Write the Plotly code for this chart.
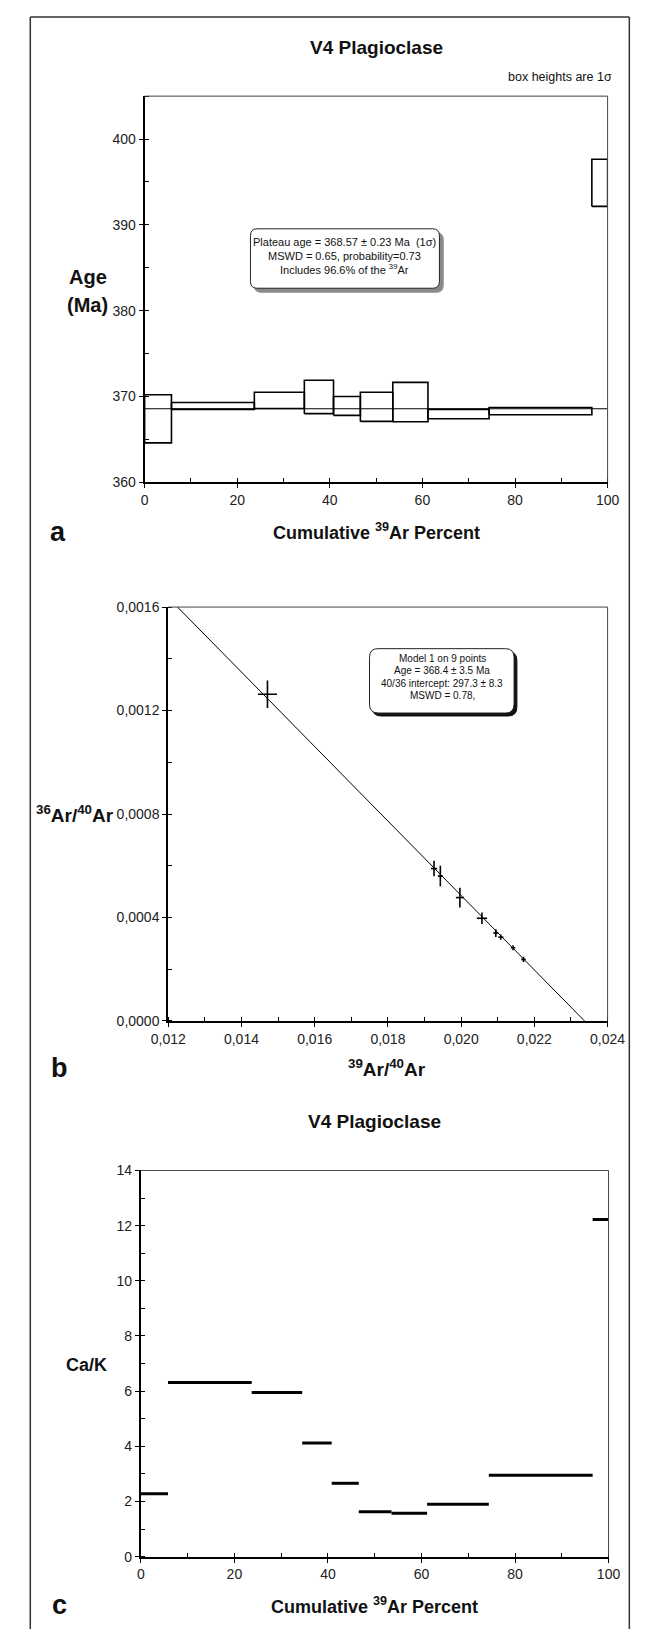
import plotly.graph_objects as go

W, H = 653, 1632
FONT = "Liberation Sans Narrow, Arial Narrow, Liberation Sans, Arial, sans-serif"

# ---- step-heating data (cumulative 39Ar %) ----
step_edges = [0, 5.8, 23.7, 34.5, 40.8, 46.6, 53.6, 61.2, 74.4, 96.6, 100]
step_age = [367.4, 368.9, 369.55, 369.95, 368.9, 368.8, 369.35, 367.95, 368.3, 394.9]
step_age_sigma = [2.8, 0.4, 0.95, 1.95, 1.1, 1.7, 2.3, 0.55, 0.42, 2.75]
plateau_age = 368.57
step_ca_k = [2.28, 6.31, 5.95, 4.12, 2.66, 1.63, 1.57, 1.90, 2.95, 12.22]

# ---- inverse isochron data ----
iso_x = [0.01471, 0.019259, 0.019432, 0.019966, 0.020568, 0.020947, 0.021084, 0.021419, 0.021703]
iso_y = [0.001263, 0.000589, 0.000560, 0.000477, 0.000397, 0.000340, 0.000324, 0.000283, 0.000238]
iso_x_err = [0.00026, 0.000086, 0.00007, 0.00011, 0.00014, 0.00007, 0.00007, 0.00006, 0.00006]
iso_y_err = [0.000053, 0.00003, 0.00004, 0.000038, 0.000022, 0.000015, 0.00001, 0.00001, 0.00001]
iso_intercept_4036 = 297.3
iso_x_intercept = 0.02337

# axis ranges / ticks
a_xrange, a_yrange = [0, 100], [360, 405]
b_xrange, b_yrange = [0.012, 0.024], [0.0, 0.0016]
c_xrange, c_yrange = [0, 100], [0, 14]


def px(x):
    return x / W


def py(y):
    return 1 - y / H


fig = go.Figure()

# ---- panel a: age spectrum boxes ----
bx, by = [], []
for i, age in enumerate(step_age):
    x0, x1 = step_edges[i], step_edges[i + 1]
    lo, hi = age - step_age_sigma[i], age + step_age_sigma[i]
    bx += [x0, x1, x1, x0, x0, None]
    by += [lo, lo, hi, hi, lo, None]
fig.add_trace(go.Scatter(x=bx, y=by, mode="lines", line=dict(color="black", width=1.6),
                         xaxis="x", yaxis="y", hoverinfo="skip"))
fig.add_trace(go.Scatter(x=a_xrange, y=[plateau_age, plateau_age], mode="lines",
                         line=dict(color="black", width=1), xaxis="x", yaxis="y"))

# ---- panel b: isochron ----
c0 = 1.0 / iso_intercept_4036
x_start = iso_x_intercept * (1 - b_yrange[1] / c0)
lx = [x_start, iso_x_intercept]
ly = [c0 * (1 - v / iso_x_intercept) for v in lx]
fig.add_trace(go.Scatter(x=lx, y=ly, mode="lines", line=dict(color="black", width=1),
                         xaxis="x2", yaxis="y2"))
fig.add_trace(go.Scatter(
    x=iso_x, y=iso_y, mode="markers", marker=dict(size=1, color="black"),
    error_x=dict(type="data", array=iso_x_err, width=0, thickness=1.6, color="black"),
    error_y=dict(type="data", array=iso_y_err, width=0, thickness=1.6, color="black"),
    xaxis="x2", yaxis="y2"))

# ---- panel c: Ca/K steps ----
cx, cy = [], []
for i, v in enumerate(step_ca_k):
    cx += [step_edges[i], step_edges[i + 1], None]
    cy += [v, v, None]
fig.add_trace(go.Scatter(x=cx, y=cy, mode="lines", line=dict(color="black", width=3),
                         xaxis="x3", yaxis="y3"))

# empty traces so the inside-tick overlay axes get drawn
for xa, ya in [("x4", "y"), ("x", "y4"), ("x5", "y2"), ("x2", "y5"), ("x6", "y3"), ("x3", "y6")]:
    fig.add_trace(go.Scatter(x=[None], y=[None], xaxis=xa, yaxis=ya, hoverinfo="skip"))


def main_axis(domain, rng, dtick, mdtick, anchor, fmt=None):
    d = dict(domain=domain, range=rng, dtick=dtick, tick0=rng[0], ticks="outside", ticklen=4,
             tickwidth=1.3, tickcolor="black", showline=True, linewidth=2, linecolor="black",
             showgrid=False, zeroline=False, anchor=anchor, fixedrange=True,
             tickfont=dict(family=FONT, size=14, color="#222"),
             minor=dict(dtick=mdtick, tick0=rng[0], ticks="inside", ticklen=4, tickwidth=1,
                        tickcolor="black", showgrid=False))
    if fmt:
        d["tickformat"] = fmt
    return d


def overlay_axis(over, rng, dtick, anchor, side):
    return dict(overlaying=over, range=rng, dtick=dtick, tick0=rng[0], ticks="inside", ticklen=4,
                tickwidth=1.3, tickcolor="black", showline=False, showgrid=False, zeroline=False,
                showticklabels=False, anchor=anchor, side=side, fixedrange=True)


dom_a = dict(x=[px(134), px(624)], y=[py(479), py(89)])
dom_b = dict(x=[px(159), px(624)], y=[py(1023), py(605)])
dom_c = dict(x=[px(130), px(625)], y=[py(1564), py(1174)])

fig.update_layout(
    xaxis=main_axis(dom_a["x"], a_xrange, 20, 10, "y"),
    yaxis=main_axis(dom_a["y"], a_yrange, 10, 5, "x"),
    xaxis2=main_axis(dom_b["x"], b_xrange, 0.002, 0.001, "y2", ".3f"),
    yaxis2=main_axis(dom_b["y"], b_yrange, 0.0004, 0.0002, "x2", ".4f"),
    xaxis3=main_axis(dom_c["x"], c_xrange, 20, 10, "y3"),
    yaxis3=main_axis(dom_c["y"], c_yrange, 2, 1, "x3"),
    xaxis4=overlay_axis("x", a_xrange, 20, "y", "bottom"),
    yaxis4=overlay_axis("y", a_yrange, 10, "x", "left"),
    xaxis5=overlay_axis("x2", b_xrange, 0.002, "y2", "bottom"),
    yaxis5=overlay_axis("y2", b_yrange, 0.0004, "x2", "left"),
    xaxis6=overlay_axis("x3", c_xrange, 20, "y3", "bottom"),
    yaxis6=overlay_axis("y3", c_yrange, 2, "x3", "left"),
)

shapes = []
# thin top / right frame of each plot
for xr, yr in [("x", "y"), ("x2", "y2"), ("x3", "y3")]:
    shapes.append(dict(type="line", xref=f"{xr} domain", yref=f"{yr} domain", x0=0, x1=1, y0=1, y1=1,
                       line=dict(color="#444", width=1)))
    shapes.append(dict(type="line", xref=f"{xr} domain", yref=f"{yr} domain", x0=1, x1=1, y0=0, y1=1,
                       line=dict(color="#444", width=1)))

# outer figure border (left, top, right)
for (x0, y0, x1, y1) in [(13, 9, 13, H + 5), (13, 9, 647, 9), (647, 9, 647, H + 5)]:
    shapes.append(dict(type="line", xref="paper", yref="paper", x0=px(x0), y0=py(y0), x1=px(x1), y1=py(y1),
                       line=dict(color="#333", width=1.5)))


def rounded_path(x0, y0, x1, y1, r):
    pts = [
        f"M {px(x0 + r)},{py(y0)}", f"L {px(x1 - r)},{py(y0)}", f"Q {px(x1)},{py(y0)} {px(x1)},{py(y0 + r)}",
        f"L {px(x1)},{py(y1 - r)}", f"Q {px(x1)},{py(y1)} {px(x1 - r)},{py(y1)}",
        f"L {px(x0 + r)},{py(y1)}", f"Q {px(x0)},{py(y1)} {px(x0)},{py(y1 - r)}",
        f"L {px(x0)},{py(y0 + r)}", f"Q {px(x0)},{py(y0)} {px(x0 + r)},{py(y0)}", "Z"]
    return " ".join(pts)


# plateau box with grey shadow
shapes.append(dict(type="path", xref="paper", yref="paper", path=rounded_path(250, 227, 450, 287, 7),
                   fillcolor="#8a8a8a", line=dict(color="#8a8a8a", width=1), layer="above"))
shapes.append(dict(type="path", xref="paper", yref="paper", path=rounded_path(246, 223, 446, 283, 7),
                   fillcolor="white", line=dict(color="#222", width=1), layer="above"))
# isochron box with dark shadow
shapes.append(dict(type="path", xref="paper", yref="paper", path=rounded_path(375, 650, 528, 715, 9),
                   fillcolor="#111", line=dict(color="#111", width=1), layer="above"))
shapes.append(dict(type="path", xref="paper", yref="paper", path=rounded_path(372, 647, 525, 712, 9),
                   fillcolor="white", line=dict(color="#222", width=1), layer="above"))

fig.update_layout(shapes=shapes)

annotations = []


def ann(text, x, y, size, xanchor="center", color="#111"):
    annotations.append(dict(text=text, x=px(x), y=py(y), xref="paper", yref="paper", showarrow=False,
                            xanchor=xanchor, yanchor="middle", font=dict(family=FONT, size=size, color=color)))


# panel a texts
ann("<b>V4 Plagioclase</b>", 379, 40, 19)
ann("box heights are 1σ", 631, 70, 12.5, xanchor="right")
ann("<b>Age</b>", 74, 272, 20)
ann("<b>(Ma)</b>", 74, 300, 20)
ann("<b>a</b>", 42, 529, 27)
ann("<b>Cumulative <sup>39</sup>Ar Percent</b>", 379, 529, 18)
ann("Plateau age = 368.57 ± 0.23 Ma  (1σ)", 346, 236, 11)
ann("MSWD = 0.65, probability=0.73", 346, 250, 11)
ann("Includes 96.6% of the <sup>39</sup>Ar", 346, 264, 11)

# panel b texts
ann("Model 1 on 9 points", 449, 657, 10)
ann("Age = 368.4 ± 3.5 Ma", 449, 669, 10)
ann("40/36 intercept: 297.3 ± 8.3", 449, 682, 10)
ann("MSWD = 0.78,", 449, 694, 10)
ann("<b><sup>36</sup>Ar/<sup>40</sup>Ar</b>", 60, 814, 19)
ann("<b><sup>39</sup>Ar/<sup>40</sup>Ar</b>", 391, 1070, 19)
ann("<b>b</b>", 44, 1070, 27)

# panel c texts
ann("<b>V4 Plagioclase</b>", 377, 1125, 19)
ann("<b>Ca/K</b>", 73, 1370, 18)
ann("<b>c</b>", 44, 1613, 27)
ann("<b>Cumulative <sup>39</sup>Ar Percent</b>", 377, 1613, 18)

fig.update_layout(
    annotations=annotations,
    width=W, height=H, margin=dict(l=0, r=0, t=0, b=0),
    paper_bgcolor="white", plot_bgcolor="white", showlegend=False,
    separators=",.",
    font=dict(family=FONT, color="#222"),
)

fig.write_html("out.html")
